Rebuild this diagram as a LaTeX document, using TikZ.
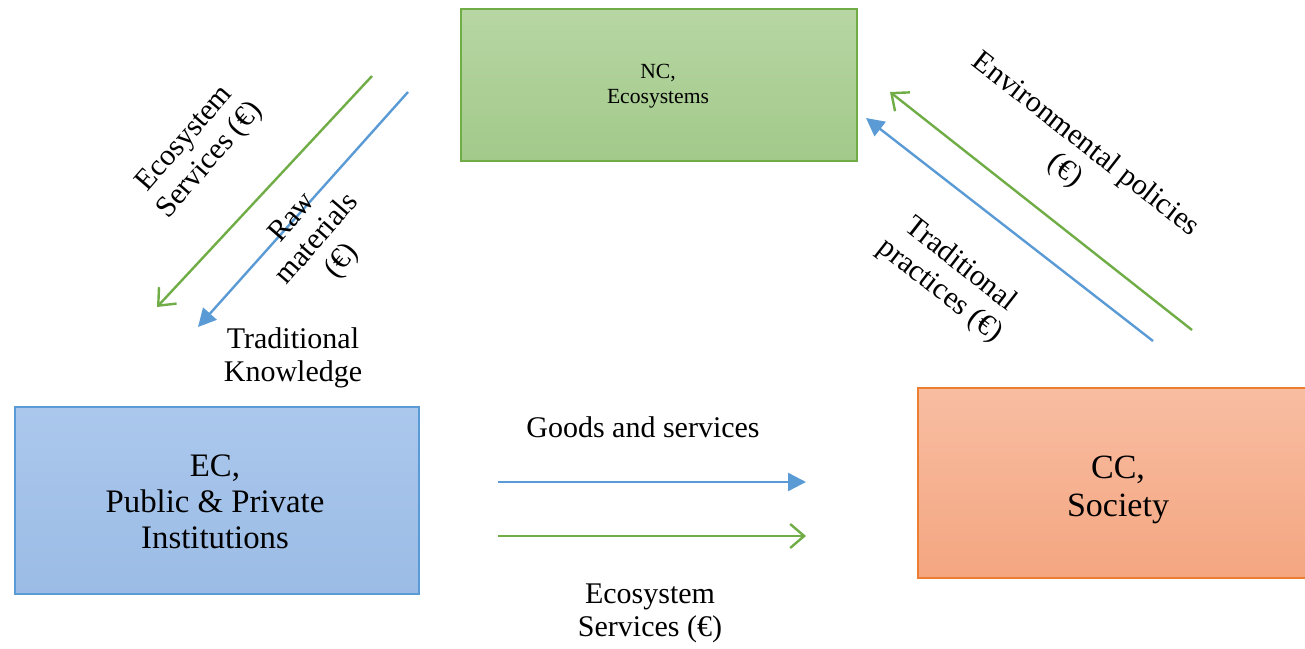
\documentclass[tikz,border=0pt]{standalone}
\usepackage{fontspec}
\setmainfont{Liberation Serif}
\usetikzlibrary{arrows.meta}
\definecolor{lgreen}{HTML}{70AD47}
\definecolor{lblue}{HTML}{5B9BD5}
\definecolor{lorange}{HTML}{ED7D31}
\definecolor{ncTop}{HTML}{B7D6A3}
\definecolor{ncBot}{HTML}{A2C98A}
\definecolor{ecTop}{HTML}{ABC7EC}
\definecolor{ecBot}{HTML}{9BBCE6}
\definecolor{ccTop}{HTML}{F8BDA2}
\definecolor{ccBot}{HTML}{F4A680}
\tikzset{
  box/.style={draw, line width=1.2pt, inner sep=0pt, anchor=north west, align=center},
  greenarrow/.style={draw=lgreen, line width=1.2pt, -{Straight Barb[length=7pt,width=12pt,line width=1.2pt]}},
  bluearrow/.style={draw=lblue, line width=1.2pt, -{Triangle[length=9pt,width=9pt]}},
  lbl/.style={align=center, inner sep=0pt},
}
\begin{document}
\begin{tikzpicture}[x=0.5pt,y=-0.5pt]
\useasboundingbox (0,0) rectangle (1305,648);
% boxes
\node[box, draw=lgreen, top color=ncTop, bottom color=ncBot, minimum width=198pt, minimum height=76pt] (nc) at (460,8) {};
\node[lbl, font=\fontsize{10.8}{12.5}\selectfont] (nct) at (658,86) {NC,\\Ecosystems};
\node[box, draw=lblue, top color=ecTop, bottom color=ecBot, minimum width=202pt, minimum height=93.5pt] (ec) at (14,406) {};
\node[lbl, font=\fontsize{16.4}{18}\selectfont] (ect) at (215,502) {EC,\\Public \& Private\\Institutions};
\node[box, draw=lorange, top color=ccTop, bottom color=ccBot, minimum width=200pt, minimum height=95pt] (cc) at (917,387) {};
\node[lbl, font=\fontsize{17}{19}\selectfont] (cct) at (1118,490) {CC,\\Society};
% arrow end points
\coordinate (g1s) at (372,76);  \coordinate (g1e) at (157,307);
\coordinate (b1s) at (408,92);  \coordinate (b1e) at (198,327);
\coordinate (g2s) at (1192,330); \coordinate (g2e) at (890,92);
\coordinate (b2s) at (1153,341); \coordinate (b2e) at (866,118);
\coordinate (b3s) at (498,482); \coordinate (b3e) at (806,482);
\coordinate (g3s) at (498,536); \coordinate (g3e) at (806,536);
\draw[greenarrow] (g1s) -- (g1e);
\draw[bluearrow] (b1s) -- (b1e);
\draw[greenarrow] (g2s) -- (g2e);
\draw[bluearrow] (b2s) -- (b2e);
\draw[bluearrow] (b3s) -- (b3e);
\draw[greenarrow] (g3s) -- (g3e);
% labels
\begin{scope}[every node/.style={lbl, font=\fontsize{15}{16.5}\selectfont}]
\node[rotate=49] (l1) at (198,150) {Ecosystem\\Services (€)};
\node[rotate=49] (l2) at (318,240) {Raw\\materials\\(€)};
\node (l3) at (293,358) {Traditional\\Knowledge};
\node[rotate=-38] (l4) at (1075,158) {Environmental policies\\(€)};
\node[rotate=-38] (l5) at (950,278) {Traditional\\practices (€)};
\node (l6) at (643,427) {Goods and services};
\node (l7) at (650,613) {Ecosystem\\Services (€)};
\end{scope}
\end{tikzpicture}
\end{document}
